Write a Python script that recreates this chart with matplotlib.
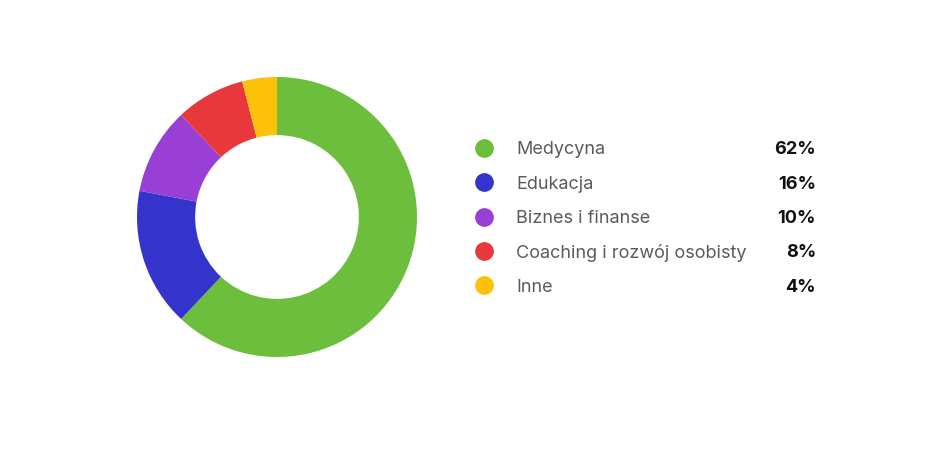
import matplotlib
matplotlib.use("Agg")
import matplotlib.pyplot as plt

# data
categories = ["Medycyna", "Edukacja", "Biznes i finanse", "Coaching i rozwój osobisty", "Inne"]
shares = [62, 16, 10, 8, 4]
colors = ["#6dbe3c", "#3434cc", "#9a3fd6", "#e8383c", "#fdc10a"]

plt.rcParams['font.family'] = ['Inter', 'DejaVu Sans']

W, H = 931, 460
fig = plt.figure(figsize=(W / 100, H / 100), dpi=100)

# donut
cx, cy, r = 277, 218, 140
ax = fig.add_axes([(cx - r) / W, (H - cy - r) / H, 2 * r / W, 2 * r / H])
ax.pie(shares, colors=colors, startangle=90, counterclock=False, radius=1,
       wedgeprops=dict(width=0.415, linewidth=0))
ax.set_xlim(-1, 1)
ax.set_ylim(-1, 1)
ax.set_aspect('auto')
ax.axis('off')

# legend drawn in pixel coords
lg = fig.add_axes([0, 0, 1, 1])
lg.set_xlim(0, W)
lg.set_ylim(H, 0)
lg.axis('off')
lg.patch.set_alpha(0)

y0, step = 149, 34.3
for i, (name, val) in enumerate(zip(categories, shares)):
    y = y0 + i * step
    lg.scatter([484], [y], s=13.5 ** 2, color=colors[i], linewidths=0)
    lg.text(516, y + 1, name, fontsize=13, color="#5a5b61", va='center', ha='left')
    lg.text(816, y + 1, "{}%".format(val), fontsize=13, color="#111111",
            fontweight='bold', va='center', ha='right')

fig.savefig("out.png", dpi=100, facecolor="white")
